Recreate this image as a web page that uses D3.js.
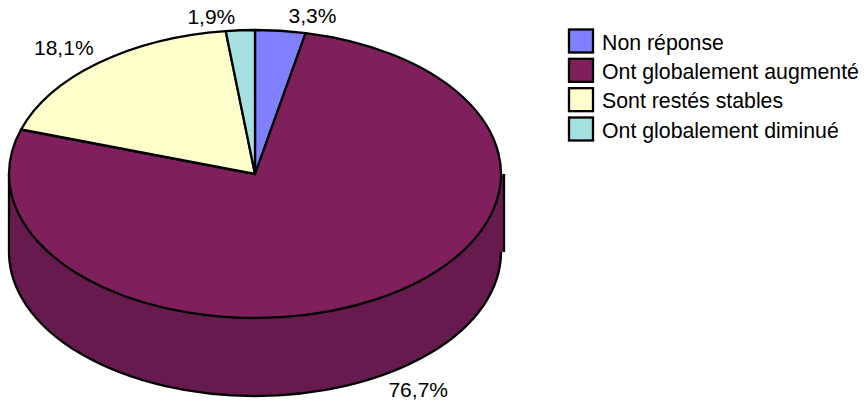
<!DOCTYPE html>
<html>
<head>
<meta charset="utf-8">
<script src="https://cdn.jsdelivr.net/npm/d3@7"></script>
<style>
    html, body { margin: 0; padding: 0; background: #fff; }
    svg { display: block; }
    text { font-family: "Liberation Sans", Arial, sans-serif; fill: #000; }
</style>
</head>
<body>
<svg id="chart" width="865" height="404"></svg>
<script>
var categories = ["Non réponse", "Ont globalement augmenté", "Sont restés stables", "Ont globalement diminué"];
var shares = [3.3, 76.7, 18.1, 1.9];
var colours = ["#8080ff", "#7f1f5c", "#ffffcc", "#a6e0e0"];
var wallColour = "#661a4d";

var width = 865, height = 404;
var cx = 255, cy = 174, rx = 246, ry = 144, depth = 78;
var lineWidth = 2.3;

var svg = d3.select("#chart");

var pieData = d3.pie().sort(null).value(function (d) { return d; })(shares);
var arc = d3.arc().innerRadius(0).outerRadius(rx);
var rim = d3.arc().innerRadius(rx).outerRadius(rx);
var bottomHalf = { startAngle: Math.PI / 2, endAngle: Math.PI * 3 / 2 };

// flatten the circle into the tilted ellipse, keep the line width constant
function flat(y) {
    return "translate(" + cx + "," + y + ") scale(1," + (ry / rx) + ")";
}

// side wall of the cylinder
svg.append("rect")
    .attr("x", cx - rx)
    .attr("y", cy)
    .attr("width", rx * 2 + 2)
    .attr("height", depth)
    .attr("fill", wallColour);

svg.append("path")
    .attr("transform", flat(cy + depth))
    .attr("d", arc(bottomHalf))
    .attr("fill", wallColour);

svg.append("path")
    .attr("transform", flat(cy + depth))
    .attr("d", rim(bottomHalf))
    .attr("fill", "none")
    .attr("stroke", "#000")
    .attr("stroke-width", lineWidth)
    .attr("vector-effect", "non-scaling-stroke");

// left edge, and the right edge that sits a bit off the ellipse
svg.append("line")
    .attr("x1", cx - rx).attr("x2", cx - rx)
    .attr("y1", cy).attr("y2", cy + depth)
    .attr("stroke", "#000").attr("stroke-width", lineWidth);

svg.append("line")
    .attr("x1", cx + rx + 3).attr("x2", cx + rx + 3)
    .attr("y1", cy).attr("y2", cy + depth)
    .attr("stroke", "#000").attr("stroke-width", lineWidth);

// top face
svg.append("g")
    .attr("transform", flat(cy))
    .selectAll("path")
    .data(pieData)
    .enter()
    .append("path")
    .attr("d", arc)
    .attr("fill", function (d, i) { return colours[i]; })
    .attr("stroke", "#000")
    .attr("stroke-width", lineWidth)
    .attr("stroke-linejoin", "round")
    .attr("vector-effect", "non-scaling-stroke");

// slice labels
var labelNudge = [[32, -15], [40, 91], [-35, -15], [-29, -14]];

svg.append("g")
    .selectAll("text")
    .data(pieData)
    .enter()
    .append("text")
    .attr("x", function (d, i) {
        var mid = (d.startAngle + d.endAngle) / 2;
        return cx + rx * Math.sin(mid) + labelNudge[i][0];
    })
    .attr("y", function (d, i) {
        var mid = (d.startAngle + d.endAngle) / 2;
        return cy - ry * Math.cos(mid) + labelNudge[i][1];
    })
    .attr("text-anchor", "middle")
    .attr("dominant-baseline", "central")
    .attr("font-size", 21)
    .text(function (d) { return String(d.data).replace(".", ",") + "%"; });

// legend
var legendY = d3.scalePoint().domain(categories).range([41, 129]);

var legend = svg.append("g")
    .selectAll("g")
    .data(categories)
    .enter()
    .append("g")
    .attr("transform", function (d) { return "translate(569," + legendY(d) + ")"; });

legend.append("rect")
    .attr("x", 0)
    .attr("y", -11.5)
    .attr("width", 24)
    .attr("height", 23)
    .attr("fill", function (d, i) { return colours[i]; })
    .attr("stroke", "#000")
    .attr("stroke-width", lineWidth);

legend.append("text")
    .attr("x", 33)
    .attr("y", 1.5)
    .attr("dominant-baseline", "central")
    .attr("font-size", 21.3)
    .text(function (d) { return d; });
</script>
</body>
</html>
